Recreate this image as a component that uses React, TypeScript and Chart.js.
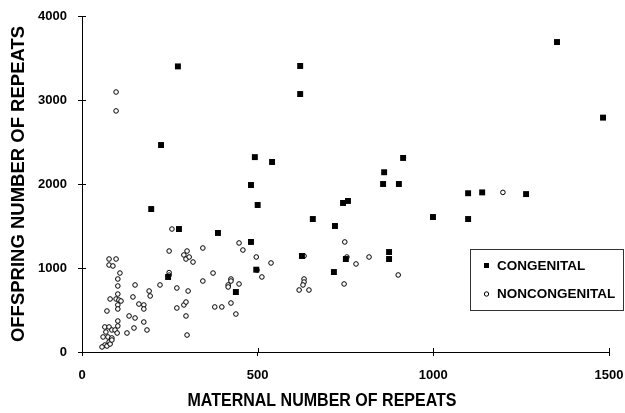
import React, { useEffect, useRef } from 'react';
import { Chart, registerables } from 'chart.js';

Chart.register(...registerables);

const seriesLabels = ['CONGENITAL', 'NONCONGENITAL'];
const xTitle = 'MATERNAL NUMBER OF REPEATS';
const yTitle = 'OFFSPRING NUMBER OF REPEATS';
const xTickValues = [0, 500, 1000, 1500];
const yTickValues = [0, 1000, 2000, 3000, 4000];

const congenitalX = [1352, 1483, 914, 902, 860, 857, 1099, 1139, 1264, 999, 1099, 273, 225, 492, 541, 481, 621, 621, 500, 743, 757, 657, 720, 481, 496, 626, 751, 717, 874, 874, 197, 276, 387, 245, 438];
const congenitalY = [3690, 2790, 2310, 2000, 2140, 2000, 1890, 1900, 1880, 1607, 1583, 3400, 2464, 2320, 2262, 1988, 3405, 3071, 1750, 1774, 1798, 1583, 1500, 1310, 980, 1143, 1107, 952, 1190, 1107, 1702, 1464, 1417, 893, 714];

const noncongenitalX = [77, 97, 77, 88, 108, 102, 102, 151, 222, 191, 194, 145, 102, 80, 97, 105, 111, 102, 102, 71, 162, 176, 176, 134, 151, 176, 102, 102, 185, 148, 128, 65, 77, 85, 68, 94, 100, 60, 74, 85, 77, 65, 57, 71, 80, 85, 97, 97,
  248, 256, 248, 248, 270, 302, 270, 290, 296, 296, 299, 299, 290, 296, 305, 316, 344, 344, 373, 378, 398, 424, 424, 416, 416, 447, 424, 438, 447, 458, 496, 538, 498, 512, 632, 632, 632, 629, 618, 646, 748, 754, 780, 817, 746, 900, 1198];
const noncongenitalY = [1107, 1107, 1036, 1024, 940, 869, 786, 798, 798, 726, 667, 655, 690, 631, 631, 619, 607, 560, 512, 488, 571, 560, 512, 429, 405, 357, 369, 310, 262, 286, 226, 298, 298, 262, 238, 262, 226, 179, 179, 167, 119, 83, 60, 71, 95, 143, 3095, 2870,
  1202, 1464, 945, 915, 762, 726, 524, 560, 595, 429, 202, 1202, 1155, 1107, 1131, 1071, 1238, 845, 940, 536, 536, 869, 845, 798, 774, 810, 583, 452, 1298, 1214, 1131, 1060, 976, 893, 1143, 869, 833, 798, 738, 738, 1310, 1131, 1048, 1131, 810, 917, 1900];

const FONT = "'Liberation Sans', Arial, Helvetica, sans-serif";

const zip = (xs: number[], ys: number[]) => xs.map((x, i) => ({ x, y: ys[i] }));

const decorPlugin = {
  id: 'decor',
  afterDraw(chart: any) {
    const ctx = chart.ctx;
    const { bottom, left } = chart.chartArea;
    const xs = chart.scales.x;
    const ys = chart.scales.y;
    ctx.save();
    ctx.strokeStyle = '#000';
    ctx.lineWidth = 1;
    ctx.beginPath();
    xs.ticks.forEach((t: any) => {
      const px = Math.round(xs.getPixelForValue(t.value)) + 0.5;
      ctx.moveTo(px, bottom - 4);
      ctx.lineTo(px, bottom);
    });
    ys.ticks.forEach((t: any) => {
      const py = Math.round(ys.getPixelForValue(t.value)) + 0.5;
      ctx.moveTo(left, py);
      ctx.lineTo(left + 4, py);
    });
    ctx.stroke();

    // axis titles
    ctx.fillStyle = '#000';
    ctx.textAlign = 'center';
    ctx.textBaseline = 'middle';
    ctx.save();
    ctx.translate(322, 401);
    ctx.scale(0.89, 1);
    ctx.font = `bold 18px ${FONT}`;
    ctx.fillText(xTitle, 0, 0);
    ctx.restore();

    ctx.save();
    ctx.translate(19, 184);
    ctx.rotate(-Math.PI / 2);
    ctx.font = `bold 18.5px ${FONT}`;
    ctx.fillText(yTitle, 0, 0);
    ctx.restore();

    // legend
    ctx.strokeStyle = '#333';
    ctx.strokeRect(470.5, 249.5, 153, 61);
    ctx.font = `bold 13.5px ${FONT}`;
    ctx.textAlign = 'left';
    ctx.fillStyle = '#000';
    const ds = chart.data.datasets;
    ctx.fillRect(484, 263, 5, 5);
    ctx.fillText(ds[0].label, 497, 266);
    ctx.beginPath();
    ctx.arc(486.5, 294, 2.2, 0, Math.PI * 2);
    ctx.fillStyle = '#fff';
    ctx.fill();
    ctx.strokeStyle = '#000';
    ctx.stroke();
    ctx.fillStyle = '#000';
    ctx.fillText(ds[1].label, 497, 294);
    ctx.restore();
  },
};

export default function App() {
  const canvasRef = useRef<HTMLCanvasElement>(null);

  useEffect(() => {
    if (!canvasRef.current) return;
    const tickFont = { family: FONT, size: 13, weight: 'bold' as const };
    const chart = new Chart(canvasRef.current, {
      type: 'scatter',
      data: {
        datasets: [
          {
            label: seriesLabels[0],
            data: zip(congenitalX, congenitalY),
            pointStyle: 'rect',
            pointRadius: 4.2,
            backgroundColor: '#000',
            borderColor: '#000',
            borderWidth: 0,
          },
          {
            label: seriesLabels[1],
            data: zip(noncongenitalX, noncongenitalY),
            pointStyle: 'circle',
            pointRadius: 2.3,
            backgroundColor: '#fff',
            borderColor: '#000',
            borderWidth: 1,
          },
        ],
      },
      options: {
        animation: false,
        responsive: false,
        events: [],
        layout: { padding: { top: 16, right: 16, left: 0, bottom: 0 } },
        plugins: { legend: { display: false }, tooltip: { enabled: false } },
        scales: {
          x: {
            type: 'linear',
            min: 0,
            max: 1500,
            afterBuildTicks: (s: any) => { s.ticks = xTickValues.map((v) => ({ value: v })); },
            ticks: { font: tickFont, color: '#000', padding: 12, callback: (v: any) => String(v) },
            grid: { drawOnChartArea: false, drawTicks: true, tickLength: 4, color: '#000' },
            border: { display: true, color: '#000', width: 1 },
            afterFit: (s: any) => { s.height = 61; s.paddingLeft = 0; s.paddingRight = 0; },
          },
          y: {
            type: 'linear',
            min: 0,
            max: 4000,
            afterBuildTicks: (s: any) => { s.ticks = yTickValues.map((v) => ({ value: v })); },
            ticks: { font: tickFont, color: '#000', padding: 11, callback: (v: any) => String(v) },
            grid: { drawOnChartArea: false, drawTicks: true, tickLength: 4, color: '#000' },
            border: { display: true, color: '#000', width: 1 },
            afterFit: (s: any) => { s.width = 82; s.paddingTop = 0; s.paddingBottom = 0; },
          },
        },
      },
      plugins: [decorPlugin],
    });
    return () => chart.destroy();
  }, []);

  return (
    <div style={{ position: 'absolute', left: 0, top: 0, width: 625, height: 413, background: '#fff' }}>
      <canvas ref={canvasRef} width={625} height={413} />
    </div>
  );
}
